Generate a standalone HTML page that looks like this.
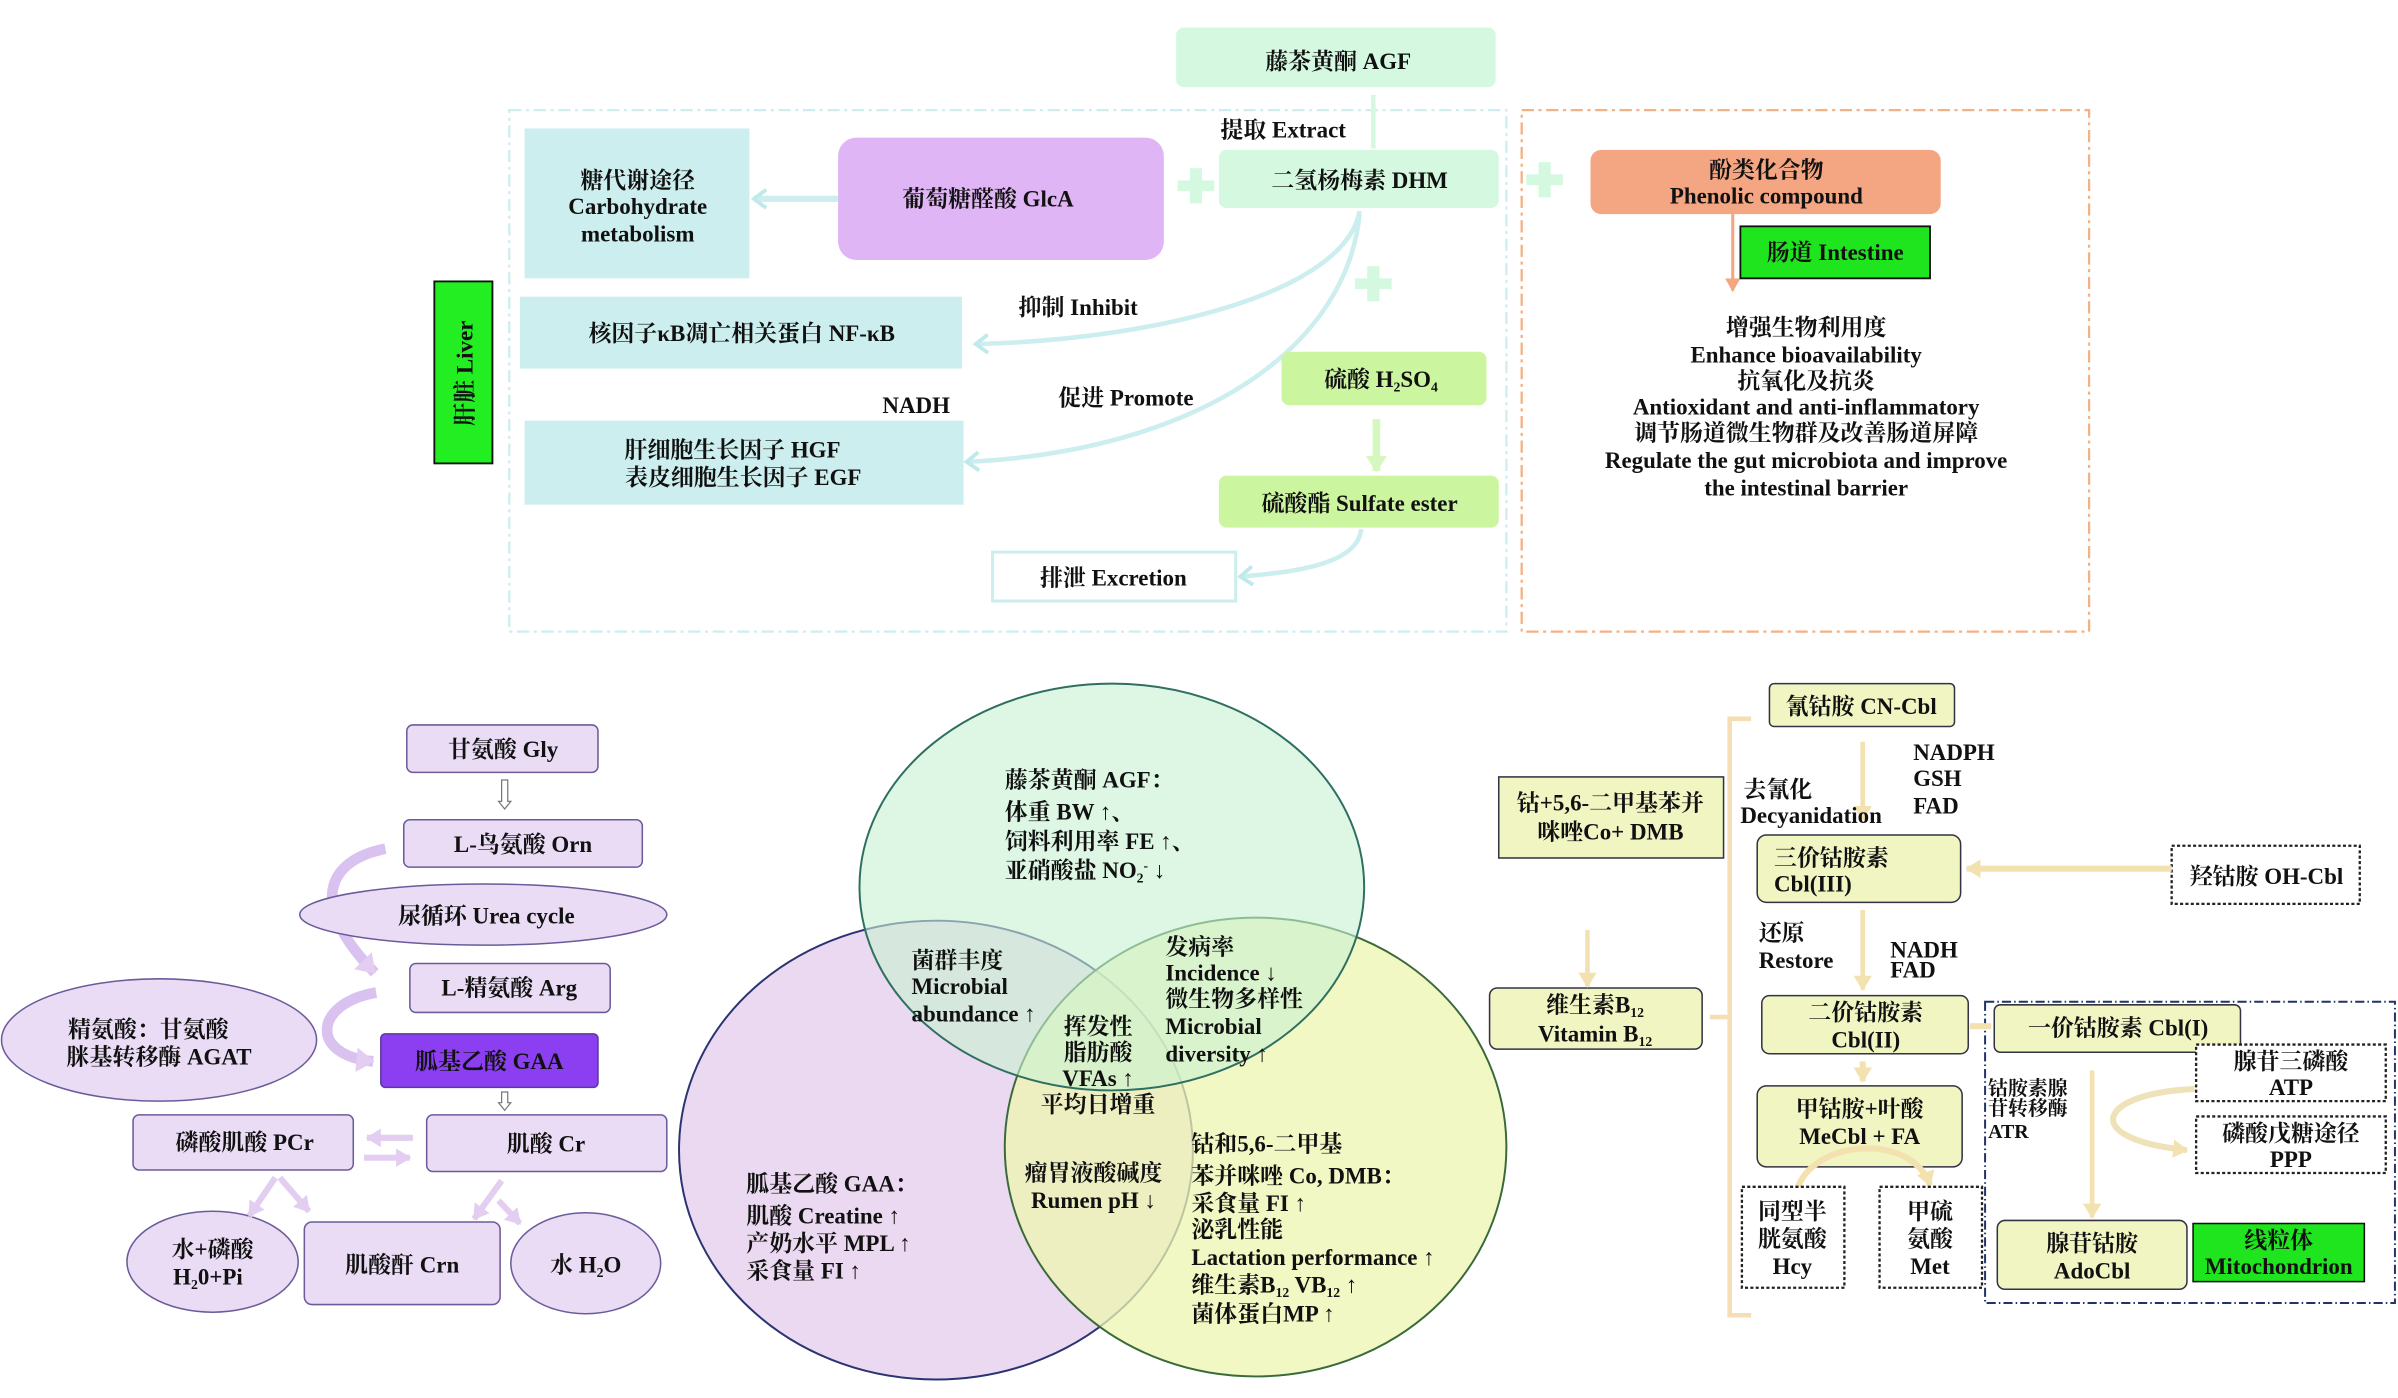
<!DOCTYPE html>
<html><head><meta charset="utf-8"><style>
html,body{margin:0;padding:0;background:#fff;}
svg{display:block;}
text{font-family:"Liberation Serif","Noto Serif CJK SC","Noto Sans CJK SC",serif;font-size:15px;fill:#111;font-weight:bold;}
.m{text-anchor:middle;}
.s{font-size:13px;}
</style></head><body>
<svg width="2398" height="1398" viewBox="0 0 1568 914.1" preserveAspectRatio="none" xmlns="http://www.w3.org/2000/svg">
<defs>
<marker id="ac" markerUnits="userSpaceOnUse" markerWidth="12" markerHeight="14" refX="9" refY="7" orient="auto"><path d="M1,1 L9,7 L1,13" fill="none" stroke="#bfe9ea" stroke-width="2.5"/></marker>
<marker id="ag" markerUnits="userSpaceOnUse" markerWidth="14" markerHeight="14" refX="10" refY="7" orient="auto"><path d="M0,0 L11,7 L0,14 z" fill="#d6f7c0"/></marker>
<marker id="aw" markerUnits="userSpaceOnUse" markerWidth="12" markerHeight="12" refX="9" refY="6" orient="auto"><path d="M0,0 L10,6 L0,12 z" fill="#f3e2b0"/></marker>
<marker id="ao" markerUnits="userSpaceOnUse" markerWidth="10" markerHeight="10" refX="8" refY="5" orient="auto"><path d="M0,0 L9,5 L0,10 z" fill="#f4a582"/></marker>
<marker id="ap" markerUnits="userSpaceOnUse" markerWidth="14" markerHeight="16" refX="11" refY="8" orient="auto"><path d="M0,0 L12,8 L0,16 z" fill="#e3cdf0"/></marker>
<marker id="ap2" markerUnits="userSpaceOnUse" markerWidth="12" markerHeight="12" refX="9" refY="6" orient="auto"><path d="M0,0 L10,6 L0,12 z" fill="#e3cdf0"/></marker>
</defs>

<!-- TOP -->
<rect x="333" y="72" width="652" height="341" fill="none" stroke="#cdeeee" stroke-width="1.5" stroke-dasharray="8,3,2,3"/>
<rect x="995" y="72" width="371" height="341" fill="none" stroke="#f4b183" stroke-width="1.5" stroke-dasharray="8,3,2,3"/>
<rect x="769" y="18" width="209" height="39" rx="5" fill="#d5f9e0"/>
<text x="875" y="45" class="m">藤茶黄酮 AGF</text>
<line x1="898" y1="62" x2="898" y2="97" stroke="#d5f9e0" stroke-width="3"/>
<text x="798" y="90">提取 Extract</text>
<rect x="343" y="84" width="147" height="98" fill="#cdeeee"/>
<text x="417" y="123" class="m">糖代谢途径</text>
<text x="417" y="140" class="m">Carbohydrate</text>
<text x="417" y="158" class="m">metabolism</text>
<rect x="548" y="90" width="213" height="80" rx="12" fill="#e0b5f5"/>
<text x="646" y="135" class="m">葡萄糖醛酸 GlcA</text>
<line x1="548" y1="130" x2="493" y2="130" stroke="#cdeeee" stroke-width="4" marker-end="url(#ac)"/>
<g fill="#d5f9e0"><rect x="770" y="118" width="24" height="7"/><rect x="778" y="110" width="8" height="23"/>
<rect x="998" y="114" width="24" height="7"/><rect x="1006" y="106" width="8" height="23"/>
<rect x="886" y="182" width="24" height="7"/><rect x="894" y="174" width="8" height="23"/></g>
<rect x="797" y="98" width="183" height="38" rx="5" fill="#d5f9e0"/>
<text x="889" y="123" class="m">二氢杨梅素 DHM</text>
<rect x="340" y="194" width="289" height="47" fill="#cdeeee"/>
<text x="485" y="223" class="m">核因子κB凋亡相关蛋白 NF-κB</text>
<text x="666" y="206">抑制 Inhibit</text>
<path d="M889,138 C880,190 760,222 638,225" fill="none" stroke="#cdeeee" stroke-width="3" marker-end="url(#ac)"/>
<text x="577" y="270">NADH</text>
<text x="692" y="265">促进 Promote</text>
<rect x="343" y="275" width="287" height="55" fill="#cdeeee"/>
<text x="479" y="299" class="m">肝细胞生长因子 HGF</text>
<text x="486" y="317" class="m">表皮细胞生长因子 EGF</text>
<path d="M889,140 C880,230 780,295 632,302" fill="none" stroke="#cdeeee" stroke-width="3" marker-end="url(#ac)"/>
<rect x="838" y="230" width="134" height="35" rx="5" fill="#ccf5a0"/>
<text x="903" y="253" class="m">硫酸 H<tspan font-size="9" dy="3">2</tspan><tspan dy="-3">SO</tspan><tspan font-size="9" dy="3">4</tspan></text>
<line x1="900" y1="274" x2="900" y2="308" stroke="#d6f7c0" stroke-width="5" marker-end="url(#ag)"/>
<rect x="797" y="311" width="183" height="34" rx="5" fill="#ccf5a0"/>
<text x="889" y="334" class="m">硫酸酯 Sulfate ester</text>
<rect x="649" y="361" width="159" height="32" fill="#fff" stroke="#cdeeee" stroke-width="2"/>
<text x="728" y="383" class="m">排泄 Excretion</text>
<path d="M890,346 C888,368 850,374 811,377" fill="none" stroke="#cdeeee" stroke-width="3" marker-end="url(#ac)"/>
<rect x="284" y="184" width="38" height="119" fill="#22ee22" stroke="#111" stroke-width="1.2"/>
<text transform="translate(309,244) rotate(-90)" class="m">肝脏 Liver</text>
<rect x="1040" y="98" width="229" height="42" rx="7" fill="#f4a582"/>
<text x="1155" y="116" class="m">酚类化合物</text>
<text x="1155" y="133" class="m">Phenolic compound</text>
<line x1="1133" y1="140" x2="1133" y2="190" stroke="#f4a582" stroke-width="2" marker-end="url(#ao)"/>
<rect x="1138" y="148" width="124" height="34" fill="#1fe51f" stroke="#111" stroke-width="1.2"/>
<text x="1200" y="170" class="m">肠道 Intestine</text>
<text x="1181" y="219" class="m">增强生物利用度</text>
<text x="1181" y="237" class="m">Enhance bioavailability</text>
<text x="1181" y="254" class="m">抗氧化及抗炎</text>
<text x="1181" y="271" class="m">Antioxidant and anti-inflammatory</text>
<text x="1181" y="288" class="m">调节肠道微生物群及改善肠道屏障</text>
<text x="1181" y="306" class="m">Regulate the gut microbiota and improve</text>
<text x="1181" y="324" class="m">the intestinal barrier</text>

<!-- BOTTOM LEFT -->
<g fill="#eadcf5" stroke="#6a5c9a" stroke-width="1">
<rect x="266" y="474" width="125" height="31" rx="4"/>
<rect x="264" y="536" width="156" height="31" rx="4"/>
<rect x="268" y="630" width="131" height="32" rx="4"/>
<rect x="87" y="729" width="144" height="36" rx="4"/>
<rect x="279" y="729" width="157" height="37" rx="4"/>
<ellipse cx="139" cy="825" rx="56" ry="33"/>
<rect x="199" y="799" width="128" height="54" rx="5"/>
<ellipse cx="383" cy="826" rx="49" ry="33"/>
</g>
<!-- purple curved arrows -->
<path d="M252,555 C215,562 200,590 245,636" fill="none" stroke="#d9c2f0" stroke-width="7" marker-end="url(#ap)"/>
<path d="M246,649 C205,656 202,690 244,694" fill="none" stroke="#d9c2f0" stroke-width="7" marker-end="url(#ap)"/>
<g fill="#eadcf5" stroke="#6a5c9a" stroke-width="1">
<ellipse cx="316" cy="598" rx="120" ry="20"/>
<ellipse cx="104" cy="680" rx="103" ry="40"/>
</g>
<rect x="249" y="676" width="142" height="35" rx="3" fill="#8b3ff0" stroke="#5a3aa0"/>
<text x="329" y="495" class="m">甘氨酸 Gly</text>
<path d="M328,510 v14 h-2 l4,5 l4,-5 h-2 v-14 z" fill="#fff" stroke="#777" stroke-width="0.8"/>
<text x="342" y="557" class="m">L-鸟氨酸 Orn</text>
<text x="318" y="604" class="m">尿循环 Urea cycle</text>
<text x="333" y="651" class="m">L-精氨酸 Arg</text>
<text x="97" y="678" class="m">精氨酸：甘氨酸</text>
<text x="104" y="696" class="m">脒基转移酶 AGAT</text>
<text x="320" y="699" class="m">胍基乙酸 GAA</text>
<path d="M328,714 v7 h-2 l4,5 l4,-5 h-2 v-7 z" fill="#fff" stroke="#777" stroke-width="0.8"/>
<text x="160" y="752" class="m">磷酸肌酸 PCr</text>
<text x="357" y="753" class="m">肌酸 Cr</text>
<text x="139" y="822" class="m">水+磷酸</text>
<text x="136" y="840" class="m">H<tspan font-size="9" dy="3">2</tspan><tspan dy="-3">0+Pi</tspan></text>
<text x="263" y="832" class="m">肌酸酐 Crn</text>
<text x="383" y="832" class="m">水 H<tspan font-size="9" dy="3">2</tspan><tspan dy="-3">O</tspan></text>
<g stroke="#e3cdf0" stroke-width="4" fill="none">
<line x1="270" y1="744" x2="240" y2="744" marker-end="url(#ap2)"/>
<line x1="238" y1="757" x2="268" y2="757" marker-end="url(#ap2)"/>
<line x1="180" y1="770" x2="163" y2="795" marker-end="url(#ap2)"/>
<line x1="183" y1="770" x2="202" y2="792" marker-end="url(#ap2)"/>
<line x1="328" y1="772" x2="310" y2="797" marker-end="url(#ap2)"/>
<line x1="326" y1="785" x2="340" y2="800" marker-end="url(#ap2)"/>
</g>

<!-- VENN -->
<ellipse cx="612" cy="752" rx="168" ry="150" fill="#e7d2ef" fill-opacity="0.85" stroke="#2b3472" stroke-width="1.3"/>
<ellipse cx="821" cy="750" rx="164" ry="150" fill="#eef5b0" fill-opacity="0.75" stroke="#3a6a3a" stroke-width="1.3"/>
<ellipse cx="727" cy="580" rx="165" ry="133" fill="#c8f2d2" fill-opacity="0.6" stroke="#2f6f60" stroke-width="1.3"/>
<text x="657" y="515">藤茶黄酮 AGF：</text>
<text x="657" y="536">体重 BW ↑、</text>
<text x="657" y="555">饲料利用率 FE ↑、</text>
<text x="657" y="574">亚硝酸盐 NO<tspan font-size="9" dy="3">2</tspan><tspan font-size="9" dy="-8">-</tspan><tspan dy="5"> ↓</tspan></text>
<text x="596" y="633">菌群丰度</text>
<text x="596" y="650">Microbial</text>
<text x="596" y="668">abundance ↑</text>
<text x="762" y="624">发病率</text>
<text x="762" y="641">Incidence ↓</text>
<text x="762" y="658">微生物多样性</text>
<text x="762" y="676">Microbial</text>
<text x="762" y="694">diversity ↑</text>
<text x="718" y="676" class="m">挥发性</text>
<text x="718" y="693" class="m">脂肪酸</text>
<text x="718" y="710" class="m">VFAs ↑</text>
<text x="718" y="727" class="m">平均日增重</text>
<text x="715" y="772" class="m">瘤胃液酸碱度</text>
<text x="715" y="790" class="m">Rumen pH ↓</text>
<text x="488" y="779">胍基乙酸 GAA：</text>
<text x="488" y="800">肌酸 Creatine ↑</text>
<text x="488" y="818">产奶水平 MPL ↑</text>
<text x="488" y="836">采食量 FI ↑</text>
<text x="779" y="753">钴和5,6-二甲基</text>
<text x="779" y="774">苯并咪唑 Co, DMB：</text>
<text x="779" y="792">采食量 FI ↑</text>
<text x="779" y="809">泌乳性能</text>
<text x="779" y="827">Lactation performance ↑</text>
<text x="779" y="845">维生素B<tspan font-size="9" dy="3">12</tspan><tspan dy="-3"> VB</tspan><tspan font-size="9" dy="3">12</tspan><tspan dy="-3"> ↑</tspan></text>
<text x="779" y="864">菌体蛋白MP ↑</text>

<!-- RIGHT -->
<path d="M1145,470 H1131 V860 H1145 M1131,665 H1118" fill="none" stroke="#f5deb3" stroke-width="3"/>
<g fill="#f1f5c2" stroke="#334" stroke-width="1">
<rect x="1157" y="447" width="121" height="28" rx="3"/>
<rect x="1149" y="546" width="133" height="44" rx="6"/>
<rect x="1152" y="651" width="135" height="38" rx="5"/>
<rect x="1149" y="710" width="134" height="53" rx="6"/>
<rect x="974" y="646" width="139" height="40" rx="5"/>
<rect x="980" y="508" width="147" height="53" rx="0"/>
<rect x="1304" y="657" width="161" height="31" rx="4"/>
<rect x="1306" y="798" width="124" height="45" rx="5"/>
</g>
<text x="1217" y="467" class="m">氰钴胺 CN-Cbl</text>
<line x1="1218" y1="485" x2="1218" y2="536" stroke="#f3e2b0" stroke-width="3" marker-end="url(#aw)"/>
<text x="1140" y="521">去氰化</text>
<text x="1138" y="538">Decyanidation</text>
<text x="1251" y="497">NADPH</text>
<text x="1251" y="514">GSH</text>
<text x="1251" y="532">FAD</text>
<text x="1160" y="566">三价钴胺素</text>
<text x="1160" y="583">Cbl(III)</text>
<rect x="1420" y="553" width="123" height="38" fill="#fff" stroke="#222" stroke-width="1.5" stroke-dasharray="2,1.5"/>
<text x="1482" y="578" class="m">羟钴胺 OH-Cbl</text>
<line x1="1420" y1="568" x2="1286" y2="568" stroke="#f3e2b0" stroke-width="4" marker-end="url(#aw)"/>
<text x="1150" y="615">还原</text>
<text x="1150" y="633">Restore</text>
<text x="1236" y="626">NADH</text>
<text x="1236" y="639">FAD</text>
<line x1="1218" y1="595" x2="1218" y2="647" stroke="#f3e2b0" stroke-width="3" marker-end="url(#aw)"/>
<text x="1220" y="667" class="m">二价钴胺素</text>
<text x="1220" y="685" class="m">Cbl(II)</text>
<line x1="1218" y1="694" x2="1218" y2="707" stroke="#f3e2b0" stroke-width="4" marker-end="url(#aw)"/>
<text x="1216" y="730" class="m">甲钴胺+叶酸</text>
<text x="1216" y="748" class="m">MeCbl + FA</text>
<path d="M1175,778 C1185,745 1250,740 1262,775" fill="none" stroke="#f3e2b0" stroke-width="4" marker-end="url(#aw)"/>
<g fill="#fff" stroke="#222" stroke-width="1.5" stroke-dasharray="2,1.5">
<rect x="1139" y="776" width="67" height="66"/>
<rect x="1229" y="776" width="67" height="66"/>
<rect x="1436" y="683" width="124" height="37"/>
<rect x="1436" y="730" width="124" height="37"/>
</g>
<text x="1172" y="797" class="m">同型半</text>
<text x="1172" y="815" class="m">胱氨酸</text>
<text x="1172" y="833" class="m">Hcy</text>
<text x="1262" y="797" class="m">甲硫</text>
<text x="1262" y="815" class="m">氨酸</text>
<text x="1262" y="833" class="m">Met</text>
<text x="1043" y="662" class="m">维生素B<tspan font-size="9" dy="3">12</tspan></text>
<text x="1043" y="681" class="m">Vitamin B<tspan font-size="9" dy="3">12</tspan></text>
<line x1="1038" y1="608" x2="1038" y2="645" stroke="#f3e2b0" stroke-width="3" marker-end="url(#aw)"/>
<text x="1053" y="530" class="m">钴+5,6-二甲基苯并</text>
<text x="1053" y="549" class="m">咪唑Co+ DMB</text>
<rect x="1298" y="655" width="268" height="197" fill="none" stroke="#223366" stroke-width="1.3" stroke-dasharray="6,2,1,2"/>
<line x1="1288" y1="671" x2="1302" y2="671" stroke="#f3e2b0" stroke-width="4"/>
<text x="1385" y="677" class="m">一价钴胺素 Cbl(I)</text>
<text x="1300" y="716" class="s">钴胺素腺</text>
<text x="1300" y="729" class="s">苷转移酶</text>
<text x="1300" y="744" class="s">ATR</text>
<line x1="1368" y1="700" x2="1368" y2="796" stroke="#f3e2b0" stroke-width="3" marker-end="url(#aw)"/>
<text x="1498" y="699" class="m">腺苷三磷酸</text>
<text x="1498" y="716" class="m">ATP</text>
<text x="1498" y="746" class="m">磷酸戊糖途径</text>
<text x="1498" y="763" class="m">PPP</text>
<path d="M1435,712 C1370,715 1360,745 1430,752" fill="none" stroke="#f0e2b8" stroke-width="4" marker-end="url(#aw)"/>
<text x="1368" y="818" class="m">腺苷钴胺</text>
<text x="1368" y="836" class="m">AdoCbl</text>
<rect x="1434" y="800" width="112" height="38" fill="#1fe51f" stroke="#111"/>
<text x="1490" y="816" class="m">线粒体</text>
<text x="1490" y="833" class="m">Mitochondrion</text>
</svg>
</body></html>
